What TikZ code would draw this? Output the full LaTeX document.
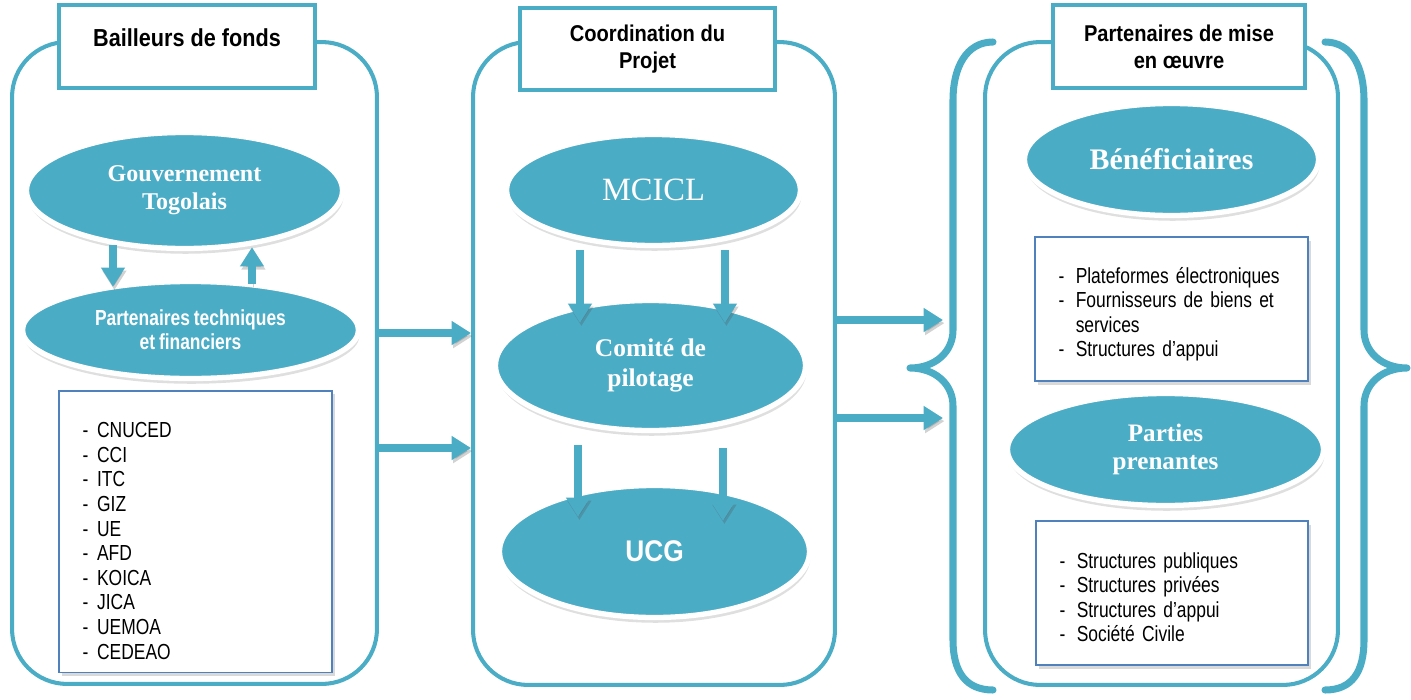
\documentclass[tikz,border=0pt]{standalone}
\usepackage{fontspec}
\setmainfont{Liberation Serif}
\setsansfont{Liberation Sans}
\newfontfamily\hdfont[FakeStretch=0.88]{Liberation Sans}
\newfontfamily\nrfont[FakeStretch=0.8, WordSpace=0.8]{Liberation Sans}
\usetikzlibrary{arrows.meta,shapes.geometric,shadows,calc}
\definecolor{accent}{RGB}{75,172,198}
\definecolor{boxblue}{RGB}{79,129,189}

\begin{document}
\begin{tikzpicture}[x=0.02cm, y=-0.02cm,
    panel/.style={rectangle, draw=accent, line width=2.3pt, rounded corners=1.1cm, inner sep=0pt},
    header/.style={rectangle, draw=accent, line width=2.3pt, fill=white, align=center, inner sep=0pt,
        font=\hdfont\bfseries\fontsize{13}{15.5}\selectfont},
    bubble/.style={ellipse, fill=accent, draw=white, line width=3pt, text=white, align=center, inner sep=0pt,
        drop shadow={opacity=0.25, shadow xshift=0.6pt, shadow yshift=-3pt}},
    listbox/.style={rectangle, draw=boxblue, line width=0.9pt, fill=white, inner xsep=0.47cm,
        drop shadow={opacity=0.3, shadow xshift=1.5pt, shadow yshift=-2pt},
        font=\nrfont\fontsize{12.4}{14}\selectfont},
    flow/.style={draw=accent, line width=4pt, -{Triangle[width=13pt,length=11pt]},
        preaction={draw=black!70, opacity=0.25, transform canvas={shift={(0.8pt,-1.8pt)}}}},
    brace/.style={draw=accent, line width=4pt, line cap=round, line join=round,
        preaction={draw=black!60, opacity=0.15, transform canvas={shift={(0.7pt,-1.3pt)}}}}]

    \useasboundingbox (0,0) rectangle (1411,700);

    % three columns
    \node[panel, minimum width=7.3cm, minimum height=12.84cm] (lp) at (194.5,363) {};
    \node[panel, minimum width=7.24cm, minimum height=12.86cm] (mp) at (654,363.5) {};
    \node[panel, minimum width=7.06cm, minimum height=12.86cm] (rp) at (1161.5,363.5) {};

    \node[header, minimum width=5.12cm, minimum height=1.66cm, text height=10pt, text depth=10pt,
        font=\hdfont\bfseries\fontsize{14}{16}\selectfont] (hbf) at (187,46.5) {Bailleurs de fonds};
    \node[header, minimum width=5.1cm, minimum height=1.64cm] (hcp) at (647.5,49) {Coordination du\\Projet};
    \node[header, minimum width=5.04cm, minimum height=1.66cm] (hpm) at (1179,46.5) {Partenaires de mise\\en œuvre};

    % braces round the right column
    \draw[brace] (993,42) .. controls (966,42) and (953,68) .. (953,100) -- (953,330)
        .. controls (953,352) and (935,368) .. (910,368) .. controls (935,368) and (953,384) .. (953,406)
        -- (953,640) .. controls (953,672) and (966,690) .. (993,690);
    \draw[brace] (1325,42) .. controls (1352,42) and (1364,68) .. (1364,100) -- (1364,330)
        .. controls (1364,352) and (1382,368) .. (1407,368) .. controls (1382,368) and (1364,384) .. (1364,406)
        -- (1364,640) .. controls (1364,672) and (1352,690) .. (1325,690);

    % bailleurs
    \node[bubble, minimum width=6.32cm, minimum height=2.32cm, font=\bfseries\fontsize{13.7}{16}\selectfont] (gouv) at (184.5,190.5) {Gouvernement\\Togolais};
    \node[bubble, minimum width=6.72cm, minimum height=1.94cm, font=\nrfont\bfseries\fontsize{12.4}{13.6}\selectfont] (ptf) at (190.5,330) {Partenaires techniques\\et financiers};
    \node[listbox, minimum width=5.46cm, minimum height=5.62cm, text width=4.52cm] (lbf) at (195.5,531.5)
        {\noindent\begin{tabular}{@{}l@{\hspace{5pt}}l@{}}
        - & \rule{0pt}{23.4pt}CNUCED\\ - & CCI\\ - & ITC\\ - & GIZ\\ - & UE\\ - & AFD\\ - & KOICA\\ - & JICA\\ - & UEMOA\\ - & CEDEAO
        \end{tabular}};

    % coordination
    \node[bubble, minimum width=5.88cm, minimum height=2.22cm, font=\fontsize{18.5}{21}\selectfont] (mcicl) at (653.5,190) {MCICL};
    \node[bubble, minimum width=6.2cm, minimum height=2.6cm, font=\bfseries\fontsize{14.5}{17}\selectfont] (comite) at (650.5,365.5) {Comité de\\pilotage};
    \node[bubble, minimum width=6.2cm, minimum height=2.64cm, font=\hdfont\bfseries\fontsize{17}{19}\selectfont] (ucg) at (654.5,551.5) {UCG};

    % mise en oeuvre
    \node[bubble, minimum width=5.88cm, minimum height=2.24cm, font=\bfseries\fontsize{17}{20}\selectfont] (benef) at (1171.5,159.5) {Bénéficiaires};
    \node[listbox, minimum width=5.46cm, minimum height=2.88cm, text width=4.52cm] (lbe) at (1171.5,309)
        {\noindent\begin{tabular}{@{}l@{\hspace{6.5pt}}l@{}}
        - & \rule{0pt}{16.6pt}Plateformes électroniques\\ - & Fournisseurs de biens et\\ & services\\ - & Structures d’appui
        \end{tabular}};
    \node[bubble, minimum width=6.32cm, minimum height=2.24cm, font=\bfseries\fontsize{14.3}{16}\selectfont] (pp) at (1165.5,449.5) {Parties\\prenantes};
    \node[listbox, minimum width=5.44cm, minimum height=2.88cm, text width=4.5cm] (lpp) at (1172,593)
        {\noindent\begin{tabular}{@{}l@{\hspace{6.5pt}}l@{}}
        - & \rule{0pt}{17.8pt}Structures publiques\\ - & Structures privées\\ - & Structures d’appui\\ - & Société Civile
        \end{tabular}};

    % arrows
    \draw[flow] ($(gouv.south)+(-71.5,-6)$) -- ($(ptf.north)+(-77.5,8)$);
    \draw[flow] ($(ptf.north)+(61.5,5)$) -- ($(gouv.south)+(67.5,-4)$);
    \draw[flow] ($(mcicl.south)+(-73.5,2)$) -- ($(comite.north)+(-70.5,25)$);
    \draw[flow] ($(mcicl.south)+(71.5,2)$) -- ($(comite.north)+(74.5,25)$);
    \draw[flow] ($(comite.south)+(-72.5,12)$) -- ($(ucg.north)+(-76.5,34)$);
    \draw[flow] ($(comite.south)+(72.5,15)$) -- ($(ucg.north)+(68.5,38)$);

    \draw[flow] (lp.east |- 0,333) -- (mp.west |- 0,333);
    \draw[flow] (lp.east |- 0,448) -- (mp.west |- 0,448);
    \coordinate (lb1) at (943,320);
    \coordinate (lb2) at (943,418);
    \draw[flow] (mp.east |- lb1) -- (lb1);
    \draw[flow] (mp.east |- lb2) -- (lb2);
\end{tikzpicture}
\end{document}
